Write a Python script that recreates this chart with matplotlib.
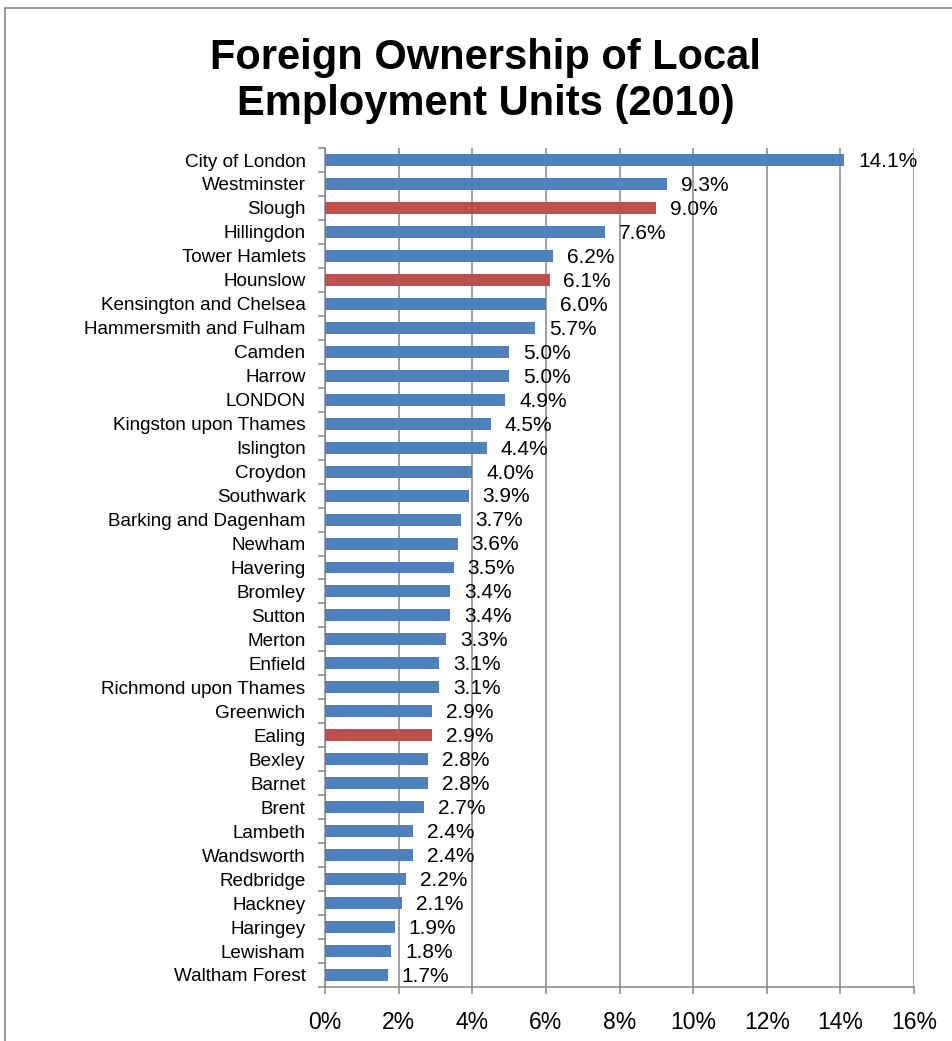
import numpy as np
import matplotlib.pyplot as plt
from matplotlib.patches import Rectangle

plt.rcParams['font.family'] = ['Liberation Sans', 'DejaVu Sans']

# Dados (de cima para baixo)
areas = ['City of London', 'Westminster', 'Slough', 'Hillingdon', 'Tower Hamlets',
         'Hounslow', 'Kensington and Chelsea', 'Hammersmith and Fulham', 'Camden',
         'Harrow', 'LONDON', 'Kingston upon Thames', 'Islington', 'Croydon',
         'Southwark', 'Barking and Dagenham', 'Newham', 'Havering', 'Bromley',
         'Sutton', 'Merton', 'Enfield', 'Richmond upon Thames', 'Greenwich',
         'Ealing', 'Bexley', 'Barnet', 'Brent', 'Lambeth', 'Wandsworth',
         'Redbridge', 'Hackney', 'Haringey', 'Lewisham', 'Waltham Forest']
valores = [14.1, 9.3, 9.0, 7.6, 6.2, 6.1, 6.0, 5.7, 5.0, 5.0, 4.9, 4.5, 4.4, 4.0,
           3.9, 3.7, 3.6, 3.5, 3.4, 3.4, 3.3, 3.1, 3.1, 2.9, 2.9, 2.8, 2.8, 2.7,
           2.4, 2.4, 2.2, 2.1, 1.9, 1.8, 1.7]
destaque = ['Slough', 'Hounslow', 'Ealing']

azul = '#4F81BD'
vermelho = '#C0504D'
cinza = '#868686'

fig = plt.figure(figsize=(9.52, 10.41), dpi=100)
ax = fig.add_axes([0.3414, 0.0519, 0.6187, 0.8059])

y = np.arange(len(areas))
cores = [vermelho if a in destaque else azul for a in areas]
ax.barh(y, valores, height=0.5, color=cores, zorder=3)

for yi, v in zip(y, valores):
    ax.annotate(f'{v:.1f}%', (v, yi), xytext=(10, -1), textcoords='offset points',
                va='center', ha='left', fontsize=15, zorder=4)

ax.set_xlim(0, 16)
ax.set_ylim(len(areas) - 0.5, -0.5)
ax.set_xticks(np.arange(0, 17, 2))
ax.set_xticklabels([f'{t}%' for t in range(0, 17, 2)], fontsize=16.5)
ax.set_yticks(y)
ax.set_yticklabels(areas, fontsize=13.6)
ax.set_yticks(np.arange(-0.5, len(areas), 1), minor=True)
ax.tick_params(axis='y', which='major', length=0, pad=14)
ax.tick_params(axis='y', which='minor', length=5, width=1.1, color=cinza)
ax.tick_params(axis='x', length=5, width=1.1, color=cinza, pad=12)

ax.grid(axis='x', color=cinza, linewidth=1.1, zorder=0)
for s in ['top', 'right']:
    ax.spines[s].set_visible(False)
for s in ['left', 'bottom']:
    ax.spines[s].set_color(cinza)
    ax.spines[s].set_linewidth(1.1)

fig.text(0.5105, 0.9225, 'Foreign Ownership of Local\nEmployment Units (2010)',
         ha='center', va='center', fontsize=30, fontweight='bold', linespacing=1.2)

# moldura do gráfico
fig.patches.append(Rectangle((0.0055, -0.05), 1.2, 1.0423, transform=fig.transFigure,
                             fill=False, edgecolor=cinza, linewidth=1.2))

fig.savefig('out.png', dpi=100)
